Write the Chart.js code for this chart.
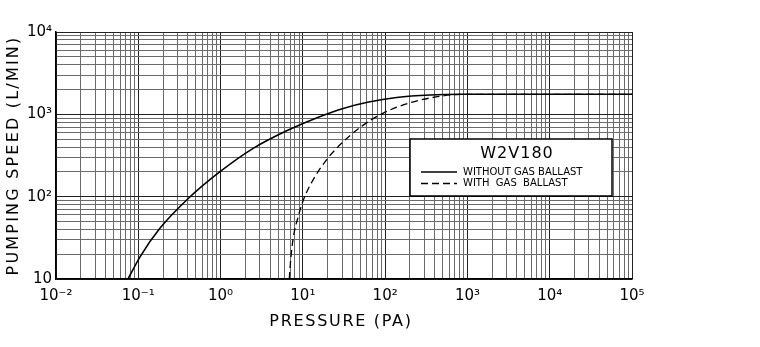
<!DOCTYPE html>
<html lang="en">
<head>
    <meta charset="UTF-8">
    <title>W2V180 pumping speed</title>
    <script src="https://cdn.jsdelivr.net/npm/chart.js"></script>
    <style>
        html, body { margin: 0; padding: 0; background: #fff; }
        #wrap { width: 760px; height: 347px; }
    </style>
</head>
<body>
    <div id="wrap"><canvas id="speed-chart" width="760" height="347"></canvas></div>

    <script>
        // values (Pa, L/min)
        const solidPressure = [0.075, 0.105, 0.184, 0.405, 0.984, 2.49, 6.35, 15.4, 31.6, 63.1, 138, 350, 881, 100000];
        const solidSpeed    = [10, 18.6, 41.5, 95, 201, 386, 631, 923, 1189, 1413, 1603, 1718, 1750, 1750];
        const dashedPressure = [6.84, 7.11, 7.64, 8.79, 10.1, 13.4, 19.5, 25.8, 49.4, 94.9, 200, 508, 881, 100000];
        const dashedSpeed    = [10, 17, 31.6, 57.5, 90, 162, 282, 389, 692, 1035, 1380, 1679, 1750, 1750];

        const seriesLabels = ['WITHOUT GAS BALLAST', 'WITH  GAS  BALLAST'];
        const legendTitle = 'W2V180';
        const xTitle = 'PRESSURE (PA)';
        const yTitle = 'PUMPING SPEED (L/MIN)';

        const xTickValues = [0.01, 0.1, 1, 10, 100, 1000, 10000, 100000];
        const xTickLabels = ['10\u207B\u00B2', '10\u207B\u00B9', '10\u2070', '10\u00B9', '10\u00B2', '10\u00B3', '10\u2074', '10\u2075'];
        const yTickValues = [10, 100, 1000, 10000];
        const yTickLabels = ['10', '10\u00B2', '10\u00B3', '10\u2074'];

        const FONT = '"DejaVu Sans", sans-serif';

        function toPoints(xs, ys) {
            return xs.map((x, i) => ({ x: x, y: ys[i] }));
        }

        function findMajor(values, v) {
            return values.findIndex(t => Math.abs(v - t) / t < 1e-6);
        }

        // keep only 1..9 x 10^n grid lines (v4 also adds 1.5 x 10^n)
        function wholeMantissa(scale) {
            scale.ticks = scale.ticks.filter(t => {
                const m = t.value / Math.pow(10, Math.floor(Math.log10(t.value) + 1e-9));
                return Math.abs(m - Math.round(m)) < 1e-6;
            });
        }

        const axisTitles = {
            id: 'axisTitles',
            afterDraw(chart) {
                const ctx = chart.ctx;
                const area = chart.chartArea;
                ctx.save();
                ctx.fillStyle = '#000';
                ctx.font = '16px ' + FONT;
                ctx.textAlign = 'center';
                ctx.textBaseline = 'middle';
                ctx.letterSpacing = '1.7px';
                ctx.fillText(xTitle, 341, 322);
                ctx.translate(14, (area.top + area.bottom) / 2);
                ctx.rotate(-Math.PI / 2);
                ctx.letterSpacing = '2.2px';
                ctx.fillText(yTitle, 0, 0);
                ctx.restore();
            }
        };

        const legendBox = {
            id: 'legendBox',
            afterDraw(chart) {
                const ctx = chart.ctx;
                const left = 410, top = 139, w = 202, h = 57;
                ctx.save();
                ctx.fillStyle = '#fff';
                ctx.fillRect(left, top, w, h);
                ctx.strokeStyle = '#000';
                ctx.lineWidth = 1.5;
                ctx.strokeRect(left, top, w, h);

                ctx.fillStyle = '#000';
                ctx.font = '16px ' + FONT;
                ctx.textAlign = 'center';
                ctx.textBaseline = 'middle';
                ctx.letterSpacing = '1px';
                ctx.fillText(legendTitle, 517, 154);
                ctx.letterSpacing = '0px';

                ctx.font = '10px ' + FONT;
                ctx.textAlign = 'left';
                chart.data.datasets.forEach((ds, i) => {
                    const y = 172 + i * 11.5;
                    ctx.beginPath();
                    ctx.setLineDash(ds.borderDash || []);
                    ctx.lineWidth = 1.3;
                    ctx.moveTo(421, y);
                    ctx.lineTo(457, y);
                    ctx.stroke();
                    ctx.setLineDash([]);
                    ctx.fillText(ds.label, 463, y);
                });
                ctx.restore();
            }
        };

        const ctx = document.getElementById('speed-chart').getContext('2d');
        new Chart(ctx, {
            type: 'line',
            data: {
                datasets: [{
                    label: seriesLabels[0],
                    data: toPoints(solidPressure, solidSpeed),
                    borderColor: '#000',
                    borderWidth: 1.6,
                    pointRadius: 0,
                    fill: false,
                    cubicInterpolationMode: 'monotone'
                }, {
                    label: seriesLabels[1],
                    data: toPoints(dashedPressure, dashedSpeed),
                    borderColor: '#000',
                    borderWidth: 1.3,
                    borderDash: [7, 4],
                    pointRadius: 0,
                    fill: false,
                    cubicInterpolationMode: 'monotone'
                }]
            },
            options: {
                responsive: false,
                animation: false,
                layout: { padding: { left: 0, right: 128, top: 32, bottom: 0 } },
                plugins: {
                    legend: { display: false },
                    tooltip: { enabled: false }
                },
                scales: {
                    x: {
                        type: 'logarithmic',
                        min: 0.01,
                        max: 100000,
                        afterBuildTicks: wholeMantissa,
                        afterFit: (scale) => { scale.height = 68; },
                        grid: {
                            drawTicks: false,
                            color: (c) => findMajor(xTickValues, c.tick.value) >= 0 ? '#222' : '#6a6a6a',
                            lineWidth: 1
                        },
                        border: { display: true, color: '#000', width: 1.5 },
                        ticks: {
                            autoSkip: false,
                            maxRotation: 0,
                            padding: 8,
                            color: '#000',
                            font: { family: FONT, size: 15 },
                            callback: (v) => {
                                const i = findMajor(xTickValues, v);
                                return i >= 0 ? xTickLabels[i] : '';
                            }
                        }
                    },
                    y: {
                        type: 'logarithmic',
                        min: 10,
                        max: 10000,
                        afterBuildTicks: wholeMantissa,
                        afterFit: (scale) => { scale.width = 56; },
                        grid: {
                            drawTicks: false,
                            color: (c) => findMajor(yTickValues, c.tick.value) >= 0 ? '#222' : '#6a6a6a',
                            lineWidth: 1
                        },
                        border: { display: true, color: '#000', width: 1.5 },
                        ticks: {
                            autoSkip: false,
                            padding: 4,
                            color: '#000',
                            font: { family: FONT, size: 15 },
                            callback: (v) => {
                                const i = findMajor(yTickValues, v);
                                return i >= 0 ? yTickLabels[i] : '';
                            }
                        }
                    }
                }
            },
            plugins: [axisTitles, legendBox]
        });
    </script>
</body>
</html>
